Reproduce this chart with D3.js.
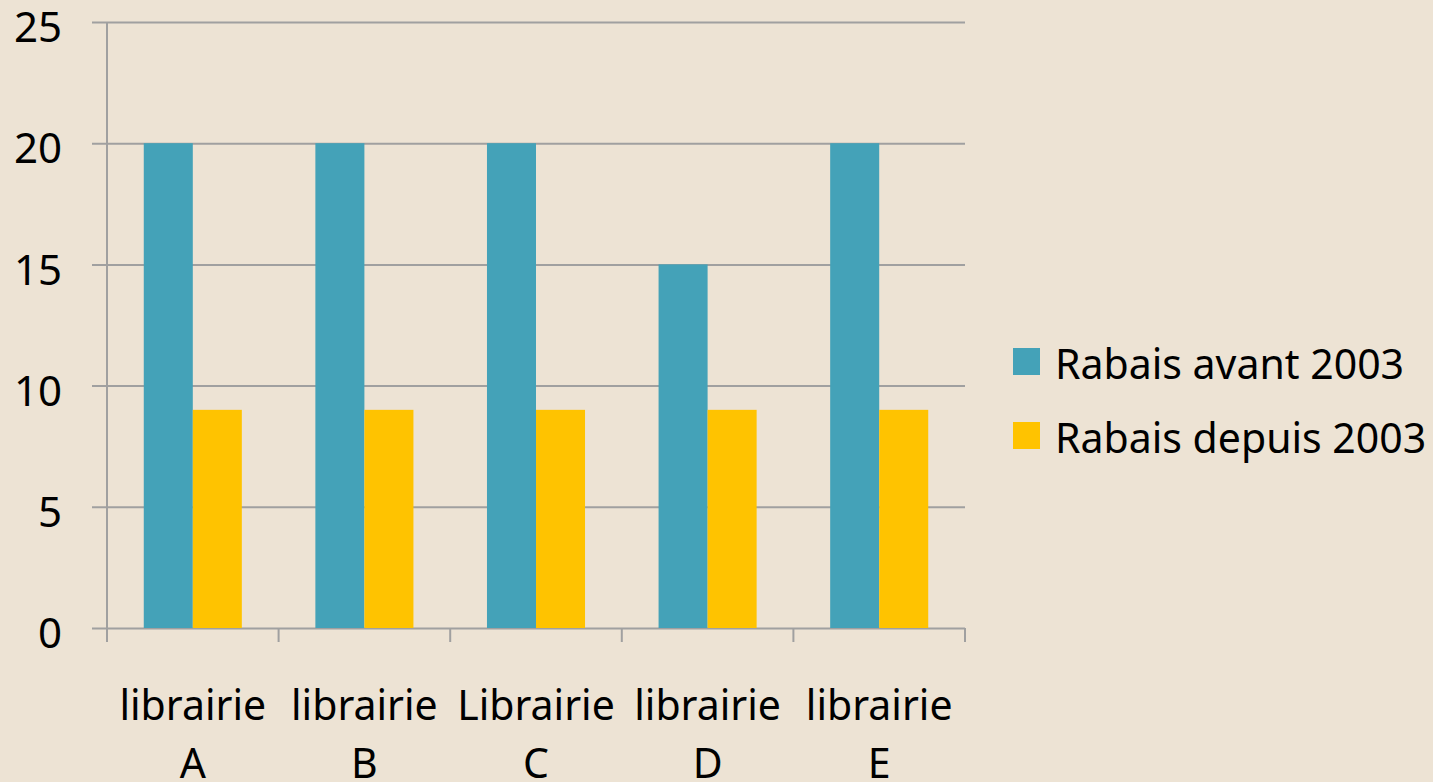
<!DOCTYPE html>
<html>
<head>
<meta charset="utf-8">
<script src="https://cdn.jsdelivr.net/npm/d3@7"></script>
<style>
  html, body { margin: 0; padding: 0; background: #ede3d4; }
  svg { display: block; font-family: "Noto Sans", sans-serif; }
</style>
</head>
<body>
<svg></svg>
<script>
var categories = ['librairie A', 'librairie B', 'Librairie C', 'librairie D', 'librairie E'];
var seriesNames = ['Rabais avant 2003', 'Rabais depuis 2003'];
var avant = [20, 20, 20, 15, 20];
var depuis = [9, 9, 9, 9, 9];
var yTicks = [0, 5, 10, 15, 20, 25];
var colors = ['#44a2b8', '#ffc300'];

var W = 1433, H = 782;
var plot = {left: 107, right: 965, top: 22, bottom: 628};

var svg = d3.select('svg').attr('width', W).attr('height', H);

var y = d3.scaleLinear().domain([0, 25]).range([plot.bottom, plot.top]);
var x = d3.scaleBand().domain(categories).range([plot.left, plot.right]);
// gap width 75% between groups
var groupW = x.bandwidth() / 1.75;
var x1 = d3.scaleBand().domain(seriesNames)
  .range([(x.bandwidth() - groupW) / 2, (x.bandwidth() + groupW) / 2]);

// gridlines + y labels
var yAxis = d3.axisLeft(y).tickValues(yTicks)
  .tickSize(-(plot.right - 92)).tickPadding(30);
var gy = svg.append('g').attr('transform', 'translate(92,0)').call(yAxis);
gy.select('.domain').remove();
gy.selectAll('line').attr('stroke', '#a0a0a0').attr('stroke-width', 2);
gy.selectAll('text').attr('font-size', 42).attr('fill', '#000')
  .attr('font-family', '"Noto Sans", sans-serif').attr('dy', '0.47em');

// vertical axis line
svg.append('line')
  .attr('x1', plot.left).attr('x2', plot.left)
  .attr('y1', plot.top).attr('y2', plot.bottom + 14)
  .attr('stroke', '#a0a0a0').attr('stroke-width', 2);

// bars
var rows = categories.map(function(c, i) {
  return {cat: c, vals: [{s: seriesNames[0], v: avant[i]}, {s: seriesNames[1], v: depuis[i]}]};
});
var groups = svg.append('g').selectAll('g').data(rows).enter().append('g')
  .attr('transform', function(d) { return 'translate(' + x(d.cat) + ',0)'; });
groups.selectAll('rect').data(function(d) { return d.vals; }).enter().append('rect')
  .attr('x', function(d) { return x1(d.s); })
  .attr('y', function(d) { return y(d.v); })
  .attr('width', x1.bandwidth())
  .attr('height', function(d) { return y(0) - y(d.v); })
  .attr('fill', function(d, i) { return colors[i]; });

// bottom ticks at category boundaries
var bounds = categories.map(function(c) { return x(c); }).concat([plot.right]);
svg.append('g').selectAll('line').data(bounds).enter().append('line')
  .attr('x1', function(d) { return d; }).attr('x2', function(d) { return d; })
  .attr('y1', plot.bottom).attr('y2', plot.bottom + 14)
  .attr('stroke', '#a0a0a0').attr('stroke-width', 2);

// x labels (two lines)
var xl = svg.append('g').selectAll('text').data(categories).enter().append('text')
  .attr('text-anchor', 'middle').attr('font-size', 41).attr('fill', '#000')
  .attr('x', function(d) { return x(d) + x.bandwidth() / 2; });
xl.append('tspan').attr('x', function(d) { return x(d) + x.bandwidth() / 2; })
  .attr('y', 720).text(function(d) { return d.split(' ')[0]; });
xl.append('tspan').attr('x', function(d) { return x(d) + x.bandwidth() / 2; })
  .attr('y', 778).text(function(d) { return d.split(' ')[1]; });

// legend
var leg = svg.append('g').selectAll('g').data(seriesNames).enter().append('g')
  .attr('transform', function(d, i) { return 'translate(1013,' + (348 + i * 74) + ')'; });
leg.append('rect').attr('width', 27).attr('height', 27)
  .attr('fill', function(d, i) { return colors[i]; });
leg.append('text').attr('x', 42).attr('y', 31).attr('font-size', 41).attr('fill', '#000')
  .text(function(d) { return d; });
</script>
</body>
</html>
